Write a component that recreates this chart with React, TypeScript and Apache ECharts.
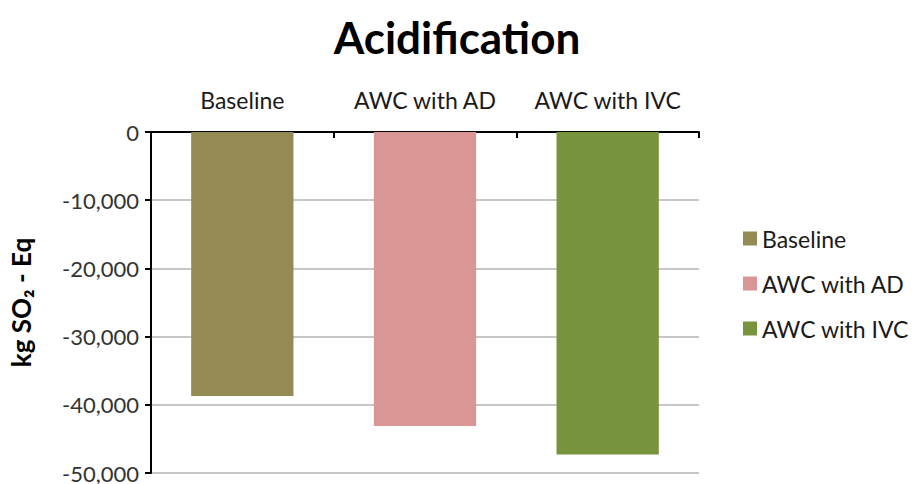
import React, { useEffect, useRef } from "react";
import * as echarts from "echarts";

const categories = ["Baseline", "AWC with AD", "AWC with IVC"];
const seriesNames = ["Baseline", "AWC with AD", "AWC with IVC"];
const seriesValues = [-38700, -43100, -47300];
const seriesColors = ["#948A54", "#D99694", "#77933C"];
const yTicks = { min: -50000, max: 0, interval: 10000 };

const FONT = "Lato, 'Open Sans', sans-serif";

export default function App() {
  const ref = useRef<HTMLDivElement>(null);

  useEffect(() => {
    document.body.style.margin = "0";
    if (!ref.current) return;
    const chart = echarts.init(ref.current, null, { renderer: "svg" });

    // one series per scenario, stacked so each bar sits centred in its own category
    const series = seriesNames.map((name, i) => ({
      name,
      type: "bar" as const,
      stack: "all",
      barWidth: "56%",
      itemStyle: { color: seriesColors[i] },
      data: categories.map((_, j) => (j === i ? seriesValues[i] : "-")),
    }));

    chart.setOption({
      animation: false,
      backgroundColor: "#ffffff",
      title: {
        text: "Acidification",
        left: 452,
        textAlign: "center",
        top: 10,
        textStyle: { fontFamily: FONT, fontSize: 44, fontWeight: "bold", color: "#000" },
      },
      legend: {
        orient: "vertical",
        left: 738,
        top: 222,
        itemWidth: 14,
        itemHeight: 14,
        itemGap: 22,
        icon: "rect",
        textStyle: { fontFamily: FONT, fontSize: 23, color: "#1a1a1a" },
        data: seriesNames,
      },
      grid: { left: 150, right: 218, top: 132, bottom: 11, containLabel: false },
      xAxis: {
        type: "category",
        position: "top",
        data: categories,
        axisLine: { lineStyle: { color: "#000", width: 2 } },
        axisTick: { show: true, inside: true, length: 6, lineStyle: { color: "#000", width: 2 } },
        axisLabel: {
          fontFamily: FONT,
          fontSize: 23,
          color: "#1a1a1a",
          margin: 21,
          interval: 0,
          hideOverlap: false,
        },
      },
      yAxis: {
        type: "value",
        min: yTicks.min,
        max: yTicks.max,
        interval: yTicks.interval,
        name: "kg SO₂ - Eq",
        nameLocation: "middle",
        nameGap: 117,
        nameRotate: 90,
        nameTextStyle: { fontFamily: FONT, fontSize: 26, fontWeight: "bold", color: "#000" },
        axisLine: { show: true, lineStyle: { color: "#000", width: 2 } },
        axisTick: { show: true, length: 6, lineStyle: { color: "#000", width: 2 } },
        axisLabel: {
          fontFamily: FONT,
          fontSize: 22,
          color: "#333",
          margin: 12,
          formatter: (v: number) => v.toLocaleString("en-US"),
        },
        splitLine: { show: true, lineStyle: { color: "#b4b4b4", width: 1.5 } },
      },
      series,
    });

    return () => chart.dispose();
  }, []);

  return <div ref={ref} style={{ width: 917, height: 484 }} />;
}
